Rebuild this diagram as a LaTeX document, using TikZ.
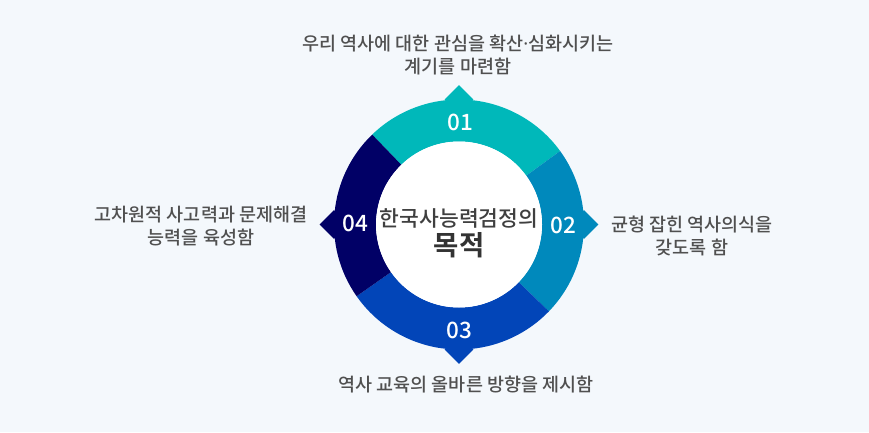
\documentclass[tikz,border=0pt]{standalone}
\usepackage{fontspec}
\setmainfont{Noto Sans CJK KR}[BoldFont={Noto Sans CJK KR Bold}]
\newfontfamily\krmed{Noto Sans CJK KR Medium}
\newfontfamily\latinsans{Noto Sans}
\usetikzlibrary{shapes.geometric}
\definecolor{bgpale}{HTML}{F4F8FC}
\definecolor{seg01}{HTML}{00B8BA}
\definecolor{seg02}{HTML}{0089BC}
\definecolor{seg03}{HTML}{0245B8}
\definecolor{seg04}{HTML}{010066}
\definecolor{inkgray}{HTML}{505050}
\definecolor{titleink}{HTML}{3F3F3F}

\begin{document}
\begin{tikzpicture}[
  x=1pt, y=1pt,
  seglbl/.style={text=white, font=\fontsize{22.5}{24}\krmed, inner sep=0},
  aimtxt/.style={text=inkgray, font=\fontsize{18.5}{23}\krmed, align=center, inner sep=1pt},
  titletxt/.style={text=titleink, inner sep=0},
  tipmark/.style={diamond, minimum size=29pt, inner sep=0},
]

\def\rout{125}
\def\rin{83}

% ---- background, fixes the page size ----
\fill[bgpale] (0,0) rectangle (869,432);

\coordinate (ctr) at (459,207.5);

% ---- pointer tips, behind the ring ----
\node[tipmark, fill=seg01] (tip01) at ([shift={(90:\rout)}]ctr) {};
\node[tipmark, fill=seg02] (tip02) at ([shift={(0:\rout)}]ctr) {};
\node[tipmark, fill=seg03] (tip03) at ([shift={(270:\rout)}]ctr) {};
\node[tipmark, fill=seg04] (tip04) at ([shift={(180:\rout)}]ctr) {};

% ---- ring segments ----
\foreach \a/\b/\c in {36/134/seg01, -44/36/seg02, 215/316/seg03, 134/215/seg04}{
  \fill[\c] ([shift={(\a:\rout)}]ctr) arc[start angle=\a, end angle=\b, radius=\rout]
    -- ([shift={(\b:\rin)}]ctr) arc[start angle=\b, end angle=\a, radius=\rin] -- cycle;
}

% ---- white core with the title ----
\node[circle, fill=white, minimum size=166pt, inner sep=0] (core) at (ctr) {};
\node[titletxt, font=\fontsize{21.5}{24}\krmed] (title) at (459,214) {한국사능력검정의};
\node[titletxt, font=\fontsize{27.5}{30}\selectfont\bfseries, text=black!80] (goal) at (459,187) {목적};

% ---- segment numbers ----
\node[seglbl] (n01) at (460,310) {01};
\node[seglbl] (n02) at (563,207) {02};
\node[seglbl] (n03) at (459,102) {03};
\node[seglbl] (n04) at (355,209) {04};

% ---- aims around the ring ----
\node[aimtxt] (aim01) at (458,377) {우리 역사에 대한 관심을 확산{\latinsans ·}심화시키는\\계기를 마련함};
\node[aimtxt] (aim02) at (692,196) {균형 잡힌 역사의식을\\갖도록 함};
\node[aimtxt] (aim03) at (466,47) {역사 교육의 올바른 방향을 제시함};
\node[aimtxt] (aim04) at (201,206) {고차원적 사고력과 문제해결\\능력을 육성함};

\end{tikzpicture}
\end{document}
